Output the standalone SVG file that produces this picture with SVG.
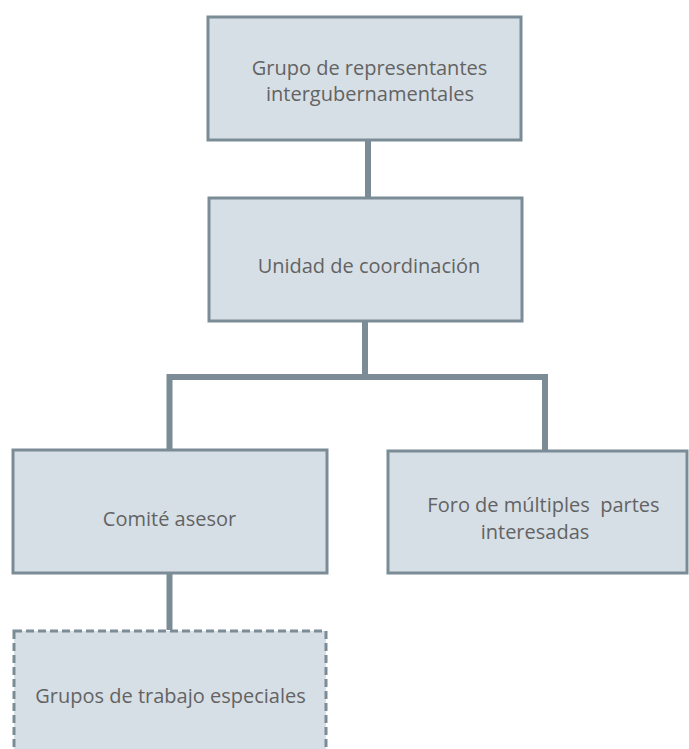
<svg xmlns="http://www.w3.org/2000/svg" width="689" height="749" viewBox="0 0 689 749">
<style>
.box{fill:#d7dfe6;stroke:#7b8c96;stroke-width:3}
.dash{fill:#d7dfe6;stroke:#7b8c96;stroke-width:3;stroke-dasharray:8 4}
.t{font-family:"Open Sans","Liberation Sans",sans-serif;font-size:20px;fill:#636363;text-anchor:middle}
.c{fill:none;stroke:#7b8c96;stroke-width:6}
</style>
<rect width="689" height="749" fill="#ffffff"/>
<g id="connectors">
<line class="c" x1="368" y1="140" x2="368" y2="197"/>
<line class="c" x1="365" y1="322" x2="365" y2="377"/>
<polyline class="c" points="169.5,450 169.5,377 545,377 545,450"/>
<line class="c" x1="169.5" y1="573" x2="169.5" y2="630"/>
</g>
<g id="n1"><rect class="box" x="208" y="17" width="313" height="123"/>
<text class="t" x="369.5" y="75">Grupo de representantes</text>
<text class="t" x="370" y="101">intergubernamentales</text></g>
<g id="n2"><rect class="box" x="209" y="198" width="313" height="123"/>
<text class="t" x="369" y="273">Unidad de coordinación</text></g>
<g id="n3"><rect class="box" x="13" y="450" width="314" height="123"/>
<text class="t" x="169.5" y="526">Comité asesor</text></g>
<g id="n4"><rect class="box" x="388" y="451" width="299" height="122"/>
<text class="t" x="543.5" y="512" xml:space="preserve">Foro de múltiples  partes</text>
<text class="t" x="535" y="539">interesadas</text></g>
<g id="n5"><rect class="dash" x="14" y="631" width="312" height="130"/>
<text class="t" x="170.5" y="703">Grupos de trabajo especiales</text></g>
</svg>
